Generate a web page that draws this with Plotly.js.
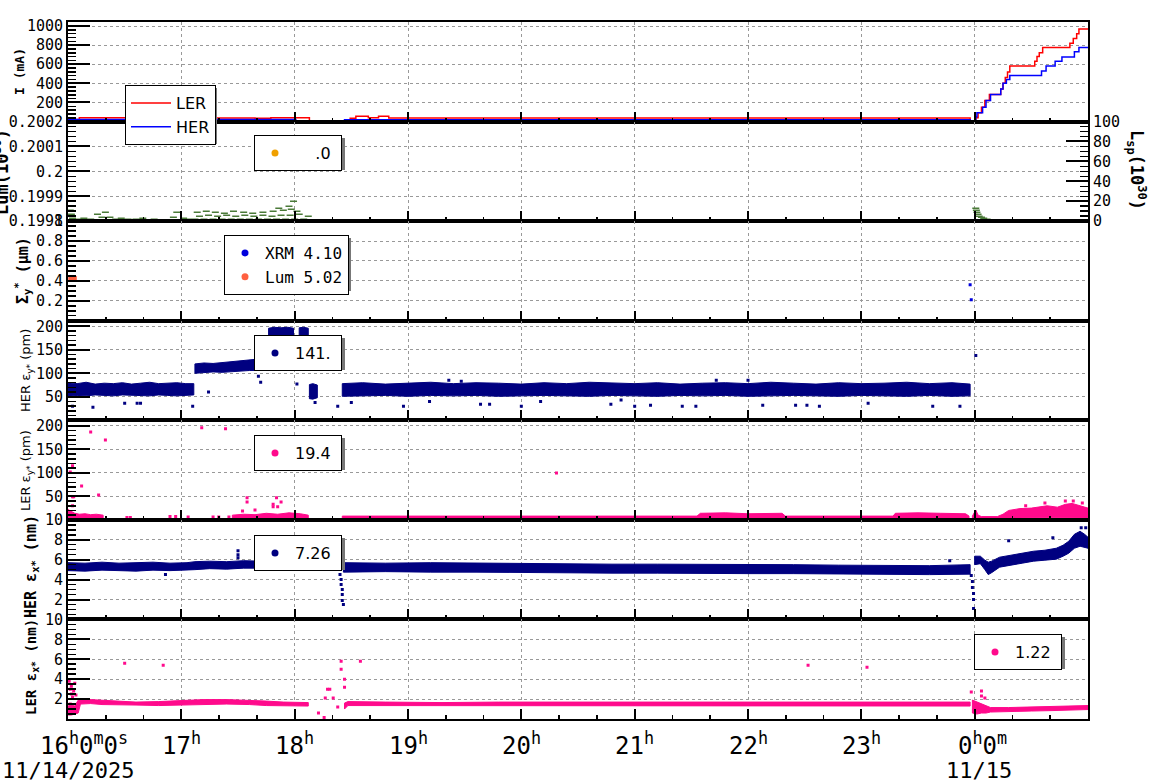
<!DOCTYPE html>
<html><head><meta charset="utf-8">
<script src="https://cdn.plot.ly/plotly-3.0.1.min.js"></script>
<style>html,body{margin:0;padding:0;background:#fff}#chart{width:1160px;height:782px}</style>
</head><body><div id="chart"></div>
<script>
// ---------------- DATA (time in hours; 24 = 0h on 11/15) ----------------
const hourTicks  = [16,17,18,19,20,21,22,23,24];
const hourLabels = ['16<sup>h</sup>0<sup>m</sup>0<sup>s</sup>','17<sup>h</sup>','18<sup>h</sup>','19<sup>h</sup>','20<sup>h</sup>','21<sup>h</sup>','22<sup>h</sup>','23<sup>h</sup>','0<sup>h</sup>0<sup>m</sup>'];
const dateTicks  = [16,24];
const dateLabels = ['11/14/2025','11/15'];

// Beam currents (mA)
const iLerT = [16.00,16.10,16.64,17.65,17.79,18.13,18.49,18.54,18.65,18.74,18.83,23.96,24.01,24.03,24.06,24.09,24.13,24.21,24.23,24.25,24.27,24.29,24.31,24.51,24.53,24.55,24.57,24.60,24.81,24.84,24.87,24.90,24.92,25.00];
const iLerV = [22,40,38,34,40,3,36,55,40,55,38,3,40,92,150,220,284,284,340,400,460,520,582,582,630,680,720,776,776,820,870,920,968,968];
const iHerT = [16.00,18.01,18.44,23.96,24.01,24.02,24.07,24.10,24.14,24.23,24.25,24.28,24.31,24.59,24.63,24.71,24.77,24.88,24.92,25.00];
const iHerV = [22,3,20,5,50,92,150,220,284,340,400,440,481,530,582,630,677,730,776,776];

// Specific luminosity Lsp (1e30)
const lumBaseT = [16.00,25.00];
const lumBaseV = [0.8,0.8];
const lumT = [16.02,16.03,16.04,16.10,16.14,16.20,16.26,16.30,16.33,16.37,16.42,16.47,16.53,16.60,16.66,16.76,16.93,16.96,17.02,17.06,
  17.12,17.20,17.28,17.36,17.44,17.52,17.60,17.68,17.76,17.84,17.92,18.00,18.08,
  17.16,17.24,17.32,17.40,17.48,17.56,17.64,17.72,17.80,17.88,17.96,18.04,18.12,
  17.14,17.22,17.30,17.38,17.46,17.55,17.63,17.72,17.81,17.90,17.97,18.02,
  17.99,17.95,17.86,
  24.01,24.015,24.02,24.03,24.04,24.06,24.08,24.11,24.15];
const lumV = [11,7,3,2,3,2,7,4,9,4,2,3,2,2,3,2,4,9,3,2,
  2,2,2,2,2,2,2,2,2,2,2,2,2,
  5,6,5,6,5,6,5,6,5,6,6,7,5,
  9,10,9,8,10,9,8,9,10,11,12,10,
  20,15,13,
  13,11,9,7,5,4,3,2,1];

// Sigma_y* (um)
const xrmT = [23.96,23.97];
const xrmV = [0.36,0.21];
const lumSigT = [16.02,16.03,16.04,16.05,16.06];
const lumSigV = [0.43,0.44,0.43,0.44,0.43];

// HER eps_y* (pm): band of the dense point cloud (null = gap) + isolated points
const herEyT  = [16.00,16.08,16.16,16.24,16.32,16.40,16.48,16.56,16.64,16.72,16.80,16.88,16.96,17.04,17.11,null,
  17.12,17.20,17.28,17.36,17.44,17.52,17.60,17.68,17.75,null,
  17.77,17.82,17.88,17.94,17.99,null,
  18.04,18.08,18.12,null,
  18.13,18.16,18.20,null,
  18.42,18.6,18.8,19.0,19.2,19.4,19.6,19.8,20.0,20.2,20.4,20.6,20.8,21.0,21.2,21.4,21.6,21.8,22.0,22.2,22.4,22.6,22.8,23.0,23.2,23.4,23.6,23.8,23.96];
const herEyLo = [51,53,52,54,53,52,54,53,53,52,54,53,52,53,54,null,
  100,102,103,102,104,105,106,106,108,null,
  160,172,168,175,170,null,
  165,170,172,null,
  46,45,48,null,
  51,52,53,51,53,52,53,51,52,53,52,51,53,52,51,53,52,53,51,52,53,52,51,53,52,51,53,51,52];
const herEyHi = [80,78,81,77,79,78,80,77,79,81,78,79,80,78,78,null,
  120,122,121,123,124,126,128,130,132,null,
  196,198,197,198,196,null,
  197,198,196,null,
  76,78,75,null,
  78,80,77,79,81,78,80,79,77,80,78,81,79,78,80,77,79,80,78,81,79,77,80,78,79,81,78,80,77];
const herEyOT = [16.04,16.22,16.50,16.61,16.64,17.10,17.24,17.68,17.70,17.73,17.75,17.78,17.80,17.84,18.02,18.18,18.38,18.50,18.96,19.19,19.36,19.47,19.64,19.72,20.00,20.17,20.79,20.88,21.00,21.14,21.42,21.54,21.72,22.00,22.13,22.42,22.52,22.63,23.06,23.63,23.87,24.01];
const herEyOV = [30,28,36,36,36,30,60,94,81,110,140,150,130,160,77,38,30,38,30,40,85,83,34,34,30,40,34,43,30,32,30,30,85,85,32,32,32,30,36,30,30,138];

// LER eps_y* (pm)
const lerEyT  = [16.00,16.03,16.06,16.10,16.15,16.20,16.25,16.31,null,
  17.45,17.55,17.65,17.75,17.85,17.95,18.05,18.12,null,
  18.42,19.5,20.5,21.55,21.58,21.8,22.0,22.3,22.33,23.0,23.28,23.3,23.5,23.7,23.92,23.95,null,
  23.98,24.0,24.01,24.03,24.06,24.2,24.25,24.3,24.4,24.5,24.56,24.64,24.73,24.8,24.86,24.92,25.0];
const lerEyLo = [2,2,2,2,2,2,2,2,null,
  2,2,2,2,2,2,2,2,null,
  3,3,3,3,3,3,3,3,3,3,3,3,3,3,3,3,null,
  3,3,3,3,3,3,3,4,4,4,4,4,5,5,5,5,5];
const lerEyHi = [22,18,14,12,13,11,12,10,null,
  10,12,11,14,12,15,13,10,null,
  8,8,8,8,14,15,13,14,8,8,8,14,15,14,13,8,null,
  8,18,21,10,7,7,12,20,24,25,27,30,27,33,35,30,25];
const lerEyOT = [16.02,16.04,16.20,16.33,16.12,16.27,16.04,16.05,16.04,16.52,16.55,16.90,16.95,17.06,17.28,17.33,17.42,17.18,17.39,17.58,17.58,17.65,17.54,17.84,17.88,17.81,17.81,17.85,20.31,24.45,24.62,24.80,24.87,24.95];
const lerEyOV = [102,115,187,170,72,53,49,49,30,5,5,7,7,6,6,6,6,196,194,47,38,21,19,47,38,33,28,28,100,30,36,40,40,36];

// HER eps_x* (nm)
const herExT  = [16.00,16.15,16.3,16.45,16.6,16.75,16.9,17.05,17.12,17.25,17.4,17.55,17.7,17.85,18.0,18.12,18.14,18.2,null,
  18.43,18.8,19.2,19.6,20.0,20.4,20.8,21.2,21.6,22.0,22.4,22.8,23.2,23.6,23.96,null,
  24.0,24.05,24.09,24.12,24.15,24.22,24.32,24.42,24.52,24.62,24.72,24.78,24.83,24.88,24.93,24.97,25.0];
const herExLo = [4.9,4.85,4.95,4.9,4.85,4.95,4.9,4.95,5.0,5.1,5.05,5.15,5.1,5.15,5.15,5.1,4.95,4.95,null,
  4.75,4.8,4.75,4.75,4.7,4.7,4.65,4.65,4.65,4.6,4.6,4.55,4.55,4.5,4.55,null,
  5.5,5.6,5.0,4.5,4.7,5.25,5.45,5.65,5.85,5.95,6.05,6.35,6.65,7.15,7.35,7.25,7.15];
const herExHi = [5.7,5.65,5.75,5.65,5.7,5.75,5.65,5.7,5.8,5.85,5.8,5.9,5.85,5.9,5.9,5.85,5.45,5.35,null,
  5.7,5.65,5.7,5.65,5.65,5.6,5.55,5.55,5.55,5.5,5.5,5.45,5.45,5.4,5.5,null,
  6.35,6.35,5.95,5.75,5.85,6.25,6.45,6.65,6.85,6.95,7.15,7.45,7.85,8.55,8.85,8.55,8.25];
const herExOT = [16.86,17.50,17.50,17.50,18.40,18.41,18.41,18.42,18.42,18.42,18.43,23.78,23.97,23.98,23.98,23.99,23.99,23.99,24.30,24.69,24.94,24.98];
const herExOV = [4.5,6.9,6.5,6.2,4.5,4.0,3.5,3.0,2.5,1.9,1.5,5.9,4.4,3.8,3.2,2.6,2.0,1.1,7.9,8.2,9.2,9.2];

// LER eps_x* (nm)
const lerExT  = [16.00,16.03,16.06,16.09,16.11,16.2,16.3,16.45,16.6,16.8,17.0,17.2,17.4,17.6,17.75,17.9,18.05,18.12,null,
  18.44,18.47,18.8,19.3,19.8,20.3,20.8,21.3,21.8,22.3,22.8,23.3,23.8,23.96,null,
  23.98,24.02,24.06,24.1,24.14,24.3,24.5,24.7,24.9,25.0];
const lerExLo = [0.4,0.4,0.5,0.6,1.5,1.55,1.45,1.4,1.4,1.35,1.4,1.45,1.5,1.45,1.35,1.3,1.3,1.3,null,
  1.0,1.35,1.35,1.35,1.35,1.3,1.35,1.35,1.35,1.3,1.3,1.3,1.3,1.3,null,
  0.6,0.5,0.6,0.6,0.7,0.75,0.8,0.85,0.9,0.95];
const lerExHi = [1.3,1.4,1.3,1.9,2.0,1.95,1.85,1.75,1.7,1.75,1.85,1.95,1.95,1.9,1.8,1.7,1.7,1.65,null,
  1.6,1.75,1.7,1.65,1.7,1.7,1.7,1.7,1.65,1.65,1.65,1.65,1.65,1.7,null,
  1.9,1.7,1.5,1.3,1.15,1.15,1.2,1.25,1.3,1.35];
const lerExOT = [16.01,16.02,16.03,16.04,16.02,16.05,16.03,16.06,16.07,16.50,16.84,18.21,18.26,18.27,18.29,18.31,18.34,18.38,18.41,18.41,18.44,18.44,18.58,22.53,23.05,23.97,24.06,24.06,24.09];
const lerExOV = [3.8,3.0,2.5,2.2,1.5,2.8,3.3,3.6,2.4,5.6,5.4,0.6,0.15,2.1,3.0,3.0,2.1,1.2,5.8,5.0,4.0,3.2,5.8,5.4,5.2,2.7,2.8,2.3,2.1];

// Legend labels
const legLum   = '\u00a0\u00a0\u00a0\u00a0.0\u00a0';
const legSigma = ['XRM 4.10','Lum 5.02'];
const legHerEy = '141.\u00a0';
const legLerEy = '19.4\u00a0';
const legHerEx = '7.26\u00a0';
const legLerEx = '1.22\u00a0';

// ---------------- LAYOUT HELPERS ----------------
const W=1160,H=782,L=68,R=1088,T=22,B=719,PW=R-L,PH=B-T;
const px2x=p=>(p-L)/PW, py2y=p=>(B-p)/PH;
const NAVY='#000080', PINK='#ff0a8c', GREEN='#4a7a38';

function bandPoly(Ts, lo, hi){
  const xs=[], ys=[]; let seg=[];
  const flush=()=>{ if(!seg.length) return;
    seg.forEach(i=>{xs.push(Ts[i]); ys.push(hi[i]);});
    for(let k=seg.length-1;k>=0;k--){xs.push(Ts[seg[k]]); ys.push(lo[seg[k]]);}
    xs.push(Ts[seg[0]]); ys.push(hi[seg[0]]); xs.push(null); ys.push(null); seg=[]; };
  Ts.forEach((t,i)=>{ if(t===null) flush(); else seg.push(i); });
  flush();
  return {xs, ys};
}
function band(Ts,lo,hi,xa,ya,color){
  const p=bandPoly(Ts,lo,hi);
  return {type:'scatter',x:p.xs,y:p.ys,xaxis:xa,yaxis:ya,mode:'lines',fill:'toself',fillcolor:color,
          line:{color:color,width:1},showlegend:false,hoverinfo:'skip'};
}
function pts(x,y,xa,ya,color,size){
  return {type:'scatter',x:x,y:y,xaxis:xa,yaxis:ya,mode:'markers',
          marker:{symbol:'square',size:size||3,color:color,line:{width:0}},showlegend:false,hoverinfo:'skip'};
}
function legItem(name,color,xa,ya,leg){
  return {type:'scatter',x:[null],y:[null],xaxis:xa,yaxis:ya,mode:'markers',
          marker:{size:7,color:color},name:name,legend:leg,showlegend:true};
}

const traces = [
  {type:'scatter',x:iLerT,y:iLerV,xaxis:'x',yaxis:'y',mode:'lines',line:{color:'#ff0000',width:1.5,shape:'hv'},name:'LER',legend:'legend'},
  {type:'scatter',x:iHerT,y:iHerV,xaxis:'x',yaxis:'y',mode:'lines',line:{color:'#0000ff',width:1.5,shape:'hv'},name:'HER',legend:'legend'},

  {type:'scatter',x:lumBaseT,y:lumBaseV,xaxis:'x2',yaxis:'y3',mode:'lines',line:{color:GREEN,width:2},showlegend:false},
  {type:'scatter',x:lumT,y:lumV,xaxis:'x2',yaxis:'y3',mode:'markers',marker:{symbol:'line-ew',size:5,line:{color:GREEN,width:1.5}},showlegend:false},
  legItem(legLum,'#f0a000','x2','y2','legend2'),

  pts(xrmT,xrmV,'x3','y4','#0000dd',3),
  pts(lumSigT,lumSigV,'x3','y4','#ff6040',4),
  legItem(legSigma[0],'#0000dd','x3','y4','legend3'),
  legItem(legSigma[1],'#ff6040','x3','y4','legend3'),

  band(herEyT,herEyLo,herEyHi,'x4','y5',NAVY),
  pts(herEyOT,herEyOV,'x4','y5',NAVY,3),
  legItem(legHerEy,NAVY,'x4','y5','legend4'),

  band(lerEyT,lerEyLo,lerEyHi,'x5','y6',PINK),
  pts(lerEyOT,lerEyOV,'x5','y6',PINK,3),
  legItem(legLerEy,PINK,'x5','y6','legend5'),

  band(herExT,herExLo,herExHi,'x6','y7',NAVY),
  pts(herExOT,herExOV,'x6','y7',NAVY,3),
  legItem(legHerEx,NAVY,'x6','y7','legend6'),

  band(lerExT,lerExLo,lerExHi,'x7','y8',PINK),
  pts(lerExOT,lerExOV,'x7','y8',PINK,3),
  legItem(legLerEx,PINK,'x7','y8','legend7')
];

const MONO='DejaVu Sans Mono', SANS='DejaVu Sans';
const layout = {width:W,height:H,autosize:false,margin:{l:L,r:W-R,t:T,b:H-B,pad:0},
  paper_bgcolor:'#fff',plot_bgcolor:'#fff',showlegend:true,annotations:[],shapes:[]};

const yNames=['y','y2','y4','y5','y6','y7','y8'];
const yCfg = {
  y:  {range:[0,1042], tv:[200,400,600,800,1000], mt:40},
  y2: {range:[0.1998,0.2002], tv:[0.1998,0.1999,0.2,0.2001,0.2002], tt:['0.1998','0.1999','0.2','0.2001','0.2002'], mt:0.00002, m0:0.1998},
  y4: {range:[0,1], tv:[0.2,0.4,0.6,0.8,1], tt:['0.2','0.4','0.6','0.8','1'], mt:0.05},
  y5: {range:[0,212], tv:[50,100,150,200], mt:10},
  y6: {range:[0,212], tv:[50,100,150,200], mt:10},
  y7: {range:[0,10], tv:[2,4,6,8,10], mt:0.5},
  y8: {range:[0,10], tv:[2,4,6,8,10], mt:0.5}
};
const gridStyle={showgrid:true,gridcolor:'#999',griddash:'dot',gridwidth:1,zeroline:false};
yNames.forEach((yn,i)=>{
  const top=T+i*PH/7, bot=T+(i+1)*PH/7;
  const c=yCfg[yn];
  const xn = i===0?'x':'x'+(i+1);
  layout[yn==='y'?'yaxis':'yaxis'+yn.slice(1)] = Object.assign({
    domain:[py2y(bot),py2y(top)], anchor:xn, range:c.range, tickmode:'array', tickvals:c.tv,
    ticktext:c.tt||c.tv.map(String), ticks:'inside', ticklen:22, tickwidth:2, tickcolor:'#000',
    showline:true, mirror:true, linecolor:'#000', linewidth:2,
    tickfont:{family:MONO,size:15,color:'#000'},
    minor:{tick0:c.m0||0,dtick:c.mt,ticks:'inside',ticklen:8,tickwidth:1.5,tickcolor:'#000',showgrid:false}
  },gridStyle);
  layout[i===0?'xaxis':'xaxis'+(i+1)] = Object.assign({
    domain:[0,1], anchor:yn, range:[16,25], tick0:16, dtick:1, showticklabels:false,
    ticks:'inside', ticklen:10, tickwidth:2, tickcolor:'#000',
    showline:true, mirror:true, linecolor:'#000', linewidth:2,
    minor:{tick0:16,dtick:1/3,ticks:'inside',ticklen:4,tickwidth:1.5,tickcolor:'#000',showgrid:false}
  },gridStyle);
});
layout.yaxis3 = {overlaying:'y2', side:'right', anchor:'x2', range:[0,100], tickmode:'array',
  tickvals:[0,20,40,60,80,100], ticks:'inside', ticklen:22, tickwidth:2, tickcolor:'#000',
  showline:true, linecolor:'#000', linewidth:2, showgrid:false, zeroline:false,
  tickfont:{family:MONO,size:15,color:'#000'},
  minor:{tick0:0,dtick:5,ticks:'inside',ticklen:8,tickwidth:1.5,tickcolor:'#000',showgrid:false}};

// legends (+ drop shadows as shapes beneath them)
function leg(px,py,font,w,h){
  layout.shapes.push({type:'rect',xref:'paper',yref:'paper',x0:px2x(px+3),x1:px2x(px+w+3),
    y0:py2y(py+h+3),y1:py2y(py+3),fillcolor:'#777',line:{width:0},layer:'above'});
  return {x:px2x(px),y:py2y(py),xanchor:'left',yanchor:'top',bgcolor:'#fff',bordercolor:'#000',borderwidth:1,
          font:font,tracegroupgap:0,itemclick:false,itemdoubleclick:false};
}
const LF={family:SANS,size:16,color:'#000'};
layout.legend  = Object.assign(leg(125,85,LF,89,56),{itemwidth:40});
layout.legend2 = leg(254,135,LF,88,32);
layout.legend3 = leg(224,235,{family:MONO,size:16,color:'#000'},124,53);
layout.legend4 = leg(254,335,LF,88,32);
layout.legend5 = leg(254,435,LF,88,32);
layout.legend6 = leg(254,535,LF,88,32);
layout.legend7 = leg(974,634,LF,88,32);

// x tick labels (bottom)
hourTicks.forEach((h,i)=>{
  layout.annotations.push({xref:'x7',yref:'paper',x:h,y:0,yanchor:'middle',xanchor:'center',
    yshift:-25, xshift:(i===0?16:(h===24?8:0)), text:hourLabels[i], showarrow:false,
    font:{family:MONO,size:24,color:'#000'}});
});
dateTicks.forEach((h,i)=>{
  layout.annotations.push({xref:'x7',yref:'paper',x:h,y:0,yanchor:'middle',xanchor:'center',
    yshift:-51, xshift:(h===24?4:0), text:dateLabels[i], showarrow:false,
    font:{family:MONO,size:22,color:'#000'}});
});
// axis titles
function ytitle(cx,cy,text,font,angle){
  layout.annotations.push({xref:'paper',yref:'paper',x:px2x(cx),y:py2y(cy),xanchor:'center',yanchor:'middle',
    text:text,textangle:angle===undefined?-90:angle,showarrow:false,font:font});
}
ytitle(19,72,'I (mA)',{family:MONO,size:13,color:'#000',weight:'bold'});
ytitle(1,172,'Lum(10<sup>30</sup>)',{family:MONO,size:17,color:'#000',weight:'bold'});
ytitle(1136,170,'L<sub>sp</sub>(10<sup>30</sup>)',{family:MONO,size:17,color:'#000',weight:'bold'},90);
ytitle(22,271,'Σ<sub>y</sub><sup>*</sup> (μm)',{family:MONO,size:15,color:'#000',weight:'bold'});
ytitle(26,371,'HER ε<sub>y*</sub> (pm)',{family:SANS,size:13,color:'#000'});
ytitle(26,471,'LER ε<sub>y*</sub> (pm)',{family:SANS,size:13,color:'#000'});
ytitle(31,567,'HER ε<sub>x*</sub> (nm)',{family:MONO,size:15,color:'#000',weight:'bold'});
ytitle(32,667,'LER ε<sub>x*</sub> (nm)',{family:MONO,size:14,color:'#000',weight:'bold'});

Plotly.newPlot('chart',traces,layout,{staticPlot:true,displayModeBar:false});
</script></body></html>
